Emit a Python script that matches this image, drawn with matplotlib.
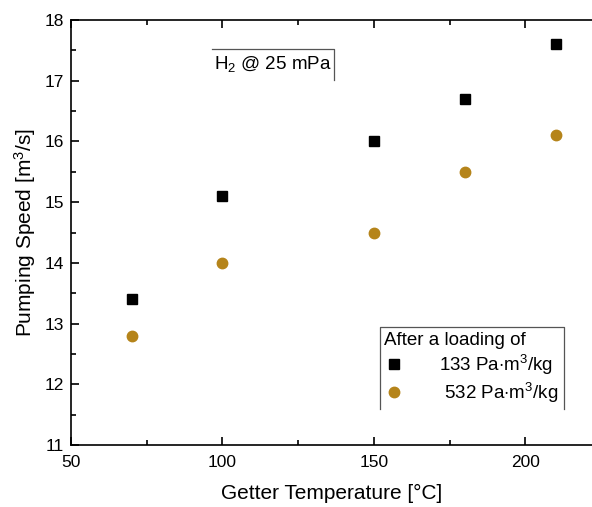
import matplotlib
matplotlib.use('Agg')
import matplotlib.pyplot as plt
from matplotlib.lines import Line2D
from matplotlib.ticker import MultipleLocator

plt.rcParams['font.family'] = ['Liberation Sans', 'DejaVu Sans']
plt.rcParams['mathtext.fontset'] = 'custom'
plt.rcParams['mathtext.rm'] = 'Liberation Sans'
plt.rcParams['mathtext.it'] = 'Liberation Sans'

# data
temperature = [70, 100, 150, 180, 210]
speed_133 = [13.4, 15.1, 16.0, 16.7, 17.6]
speed_532 = [12.8, 14.0, 14.5, 15.5, 16.1]

gold = '#B5841A'

fig = plt.figure(figsize=(5.92, 5.07), dpi=100)
ax = fig.add_axes([0.12, 0.122, 0.88, 0.8386])

ax.plot(temperature, speed_133, 's', color='black', markersize=6.5, label='133 Pa$\\cdot$m$^3$/kg')
ax.plot(temperature, speed_532, 'o', color=gold, markersize=7.5, label=' 532 Pa$\\cdot$m$^3$/kg')

ax.set_xlim(50, 222)
ax.set_ylim(11, 18)
ax.xaxis.set_major_locator(MultipleLocator(50))
ax.xaxis.set_minor_locator(MultipleLocator(25))
ax.yaxis.set_major_locator(MultipleLocator(1))
ax.yaxis.set_minor_locator(MultipleLocator(0.5))
ax.tick_params(which='both', direction='in', top=True, labelsize=12.5, width=1.2)
ax.tick_params(which='major', length=6)
ax.tick_params(which='minor', length=3.5)
ax.tick_params(axis='x', pad=7)
ax.tick_params(axis='y', pad=5)
ax.spines['right'].set_visible(False)
for s in ('left', 'bottom', 'top'):
    ax.spines[s].set_linewidth(1.2)

ax.set_xlabel('Getter Temperature [°C]', fontsize=15, labelpad=10)
ax.set_ylabel('Pumping Speed [m$^3$/s]', fontsize=15, labelpad=5)

leg = ax.legend(title='After a loading of', loc='upper left', bbox_to_anchor=(0.578, 0.295),
                frameon=False, fontsize=13.5, title_fontsize=13.5, handletextpad=1.9,
                handlelength=1.0, borderpad=0.15, labelspacing=0.2)
leg._legend_box.align = 'left'

txt = ax.text(116.5, 17.27, 'H$_2$ @ 25 mPa', fontsize=13.5, ha='center', va='center')

# Origin style open boxes: legend has no bottom edge, label box only top and right
fig.canvas.draw()
inv = fig.transFigure.inverted()
lb = leg.get_window_extent()
(x0, y0), (x1, y1) = inv.transform([(lb.x0 - 2, lb.y0 - 2), (lb.x1 + 3, lb.y1 + 2)])
fig.add_artist(Line2D([x0, x0, x1, x1], [y0, y1, y1, y0], color='#555555', lw=0.9))
tb = txt.get_window_extent()
(x0, y0), (x1, y1) = inv.transform([(tb.x0 - 2, tb.y0 - 6), (tb.x1 + 3, tb.y1 + 5)])
fig.add_artist(Line2D([x0, x1, x1], [y1, y1, y0], color='#555555', lw=0.9))

fig.savefig('out.png', dpi=100)
